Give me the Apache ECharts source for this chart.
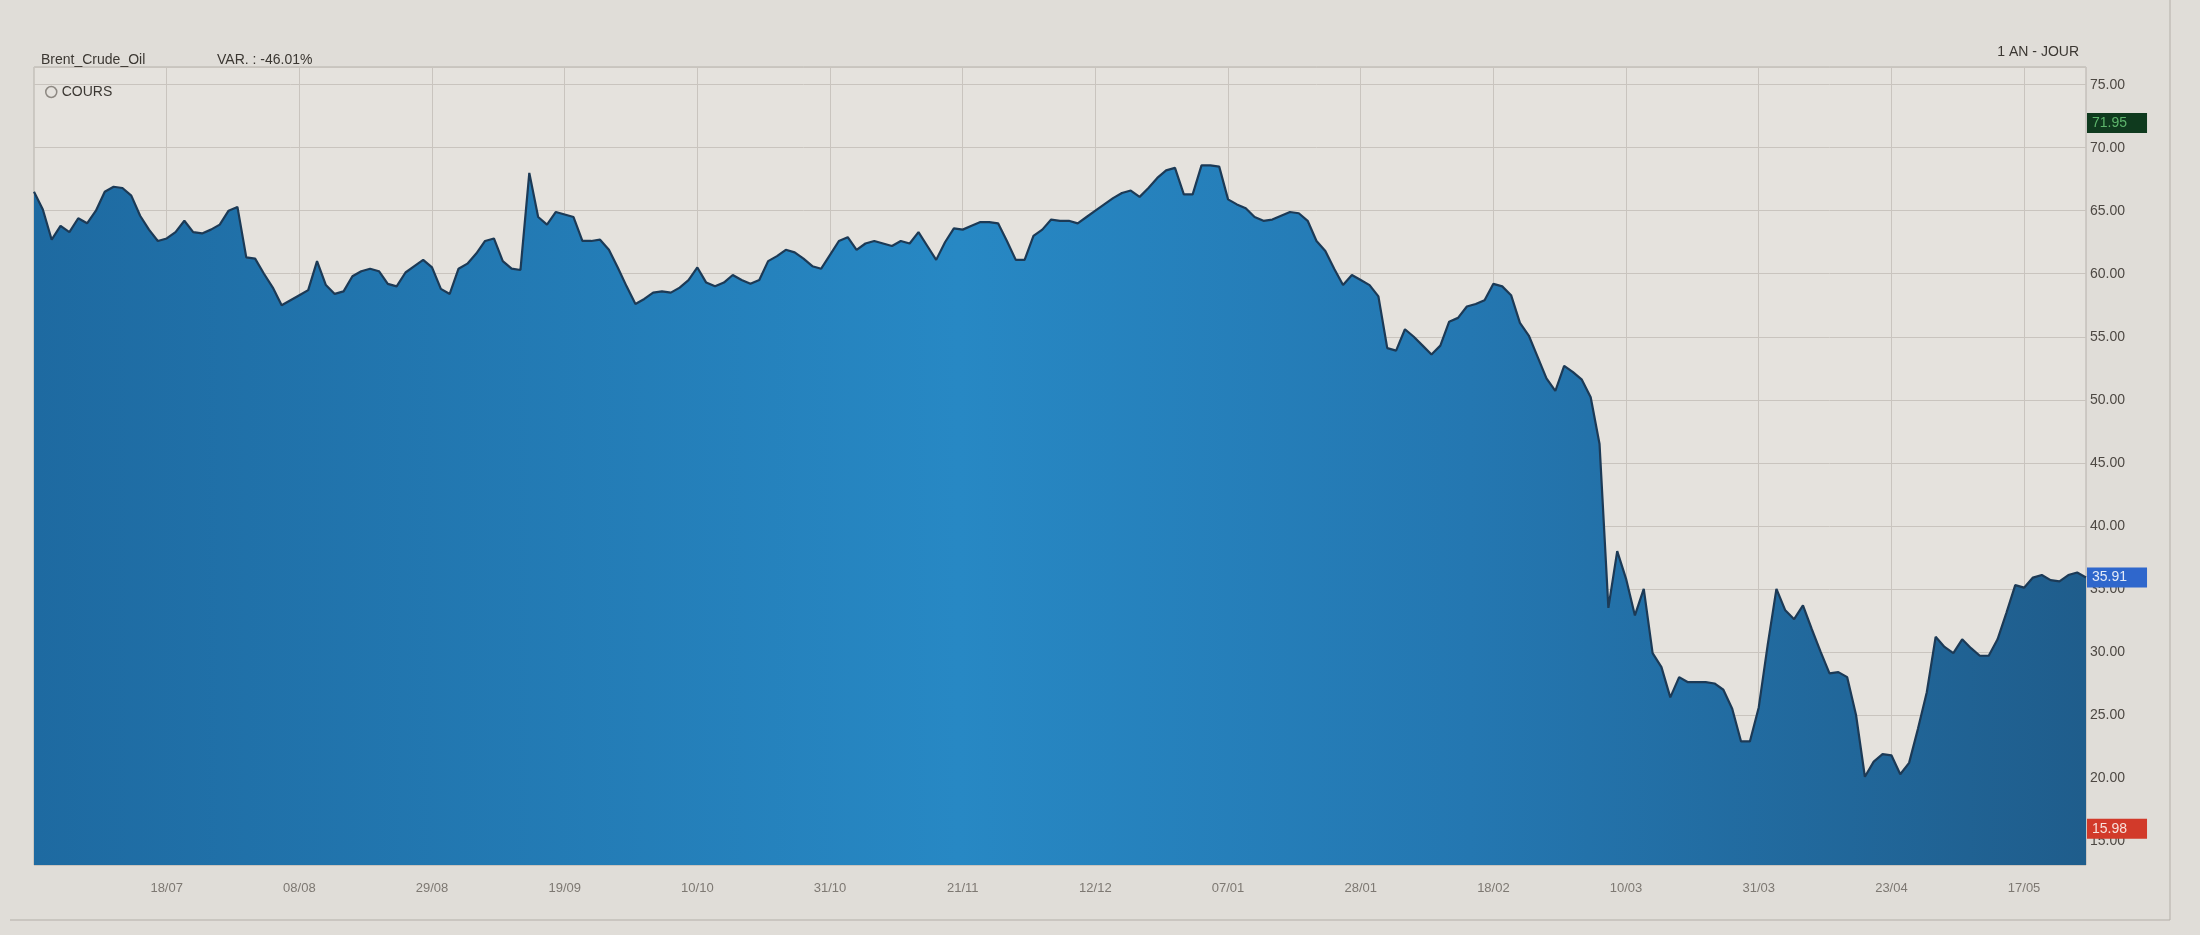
<!DOCTYPE html>
<html><head><meta charset="utf-8">
<script src="https://cdn.jsdelivr.net/npm/echarts@6/dist/echarts.min.js"></script>
<style>html,body{margin:0;padding:0;background:#e0ddd8;}#c{width:2200px;height:935px;}</style>
</head><body><div id="c"></div>
<script>
const instrument = 'Brent_Crude_Oil';
const variation = 'VAR. : -46.01%';
const period = '1 AN - JOUR';
const seriesName = 'COURS';

const categories = [
 '27/06','28/06',
 '01/07','02/07','03/07','04/07','05/07','08/07','09/07','10/07','11/07','12/07','15/07','16/07','17/07','18/07','19/07','22/07','23/07','24/07','25/07','26/07','29/07','30/07','31/07',
 '01/08','02/08','05/08','06/08','07/08','08/08','09/08','12/08','13/08','14/08','15/08','16/08','19/08','20/08','21/08','22/08','23/08','26/08','27/08','28/08','29/08','30/08',
 '02/09','03/09','04/09','05/09','06/09','09/09','10/09','11/09','12/09','13/09','16/09','17/09','18/09','19/09','20/09','23/09','24/09','25/09','26/09','27/09','30/09',
 '01/10','02/10','03/10','04/10','07/10','08/10','09/10','10/10','11/10','14/10','15/10','16/10','17/10','18/10','21/10','22/10','23/10','24/10','25/10','28/10','29/10','30/10','31/10',
 '01/11','04/11','05/11','06/11','07/11','08/11','11/11','12/11','13/11','14/11','15/11','18/11','19/11','20/11','21/11','22/11','25/11','26/11','27/11','28/11','29/11',
 '02/12','03/12','04/12','05/12','06/12','09/12','10/12','11/12','12/12','13/12','16/12','17/12','18/12','19/12','20/12','23/12','24/12','27/12','30/12','31/12',
 '02/01','03/01','06/01','07/01','08/01','09/01','10/01','13/01','14/01','15/01','16/01','17/01','20/01','21/01','22/01','23/01','24/01','27/01','28/01','29/01','30/01','31/01',
 '03/02','04/02','05/02','06/02','07/02','10/02','11/02','12/02','13/02','14/02','17/02','18/02','19/02','20/02','21/02','24/02','25/02','26/02','27/02','28/02',
 '02/03','03/03','04/03','05/03','06/03','09/03','10/03','11/03','12/03','13/03','16/03','17/03','18/03','19/03','20/03','23/03','24/03','25/03','26/03','27/03','30/03','31/03',
 '01/04','02/04','03/04','06/04','07/04','08/04','09/04','14/04','15/04','16/04','17/04','20/04','21/04','22/04','23/04','24/04','27/04','28/04','29/04','30/04',
 '04/05','05/05','06/05','07/05','11/05','12/05','13/05','14/05','15/05','17/05','18/05','19/05','20/05','21/05','22/05','25/05','26/05'
];

const prices = [
 66.5,65.1,62.7,63.8,63.3,64.4,64.0,65.0,66.5,66.9,
 66.8,66.2,64.6,63.5,62.6,62.8,63.3,64.2,63.3,63.2,
 63.5,63.9,65.0,65.3,61.3,61.2,60.0,58.9,57.5,57.9,
 58.3,58.7,61.0,59.1,58.4,58.6,59.8,60.2,60.4,60.2,
 59.2,59.0,60.1,60.6,61.1,60.5,58.8,58.4,60.4,60.8,
 61.6,62.6,62.8,61.0,60.4,60.3,68.0,64.5,63.9,64.9,
 64.7,64.5,62.6,62.6,62.7,61.9,60.5,59.0,57.6,58.0,
 58.5,58.6,58.5,58.9,59.5,60.5,59.3,59.0,59.3,59.9,
 59.5,59.2,59.5,61.0,61.4,61.9,61.7,61.2,60.6,60.4,
 61.5,62.6,62.9,61.9,62.4,62.6,62.4,62.2,62.6,62.4,
 63.3,62.2,61.1,62.5,63.6,63.5,63.8,64.1,64.1,64.0,
 62.6,61.1,61.1,63.0,63.5,64.3,64.2,64.2,64.0,64.5,
 65.0,65.5,66.0,66.4,66.6,66.1,66.8,67.6,68.2,68.4,
 66.3,66.3,68.6,68.6,68.5,65.9,65.5,65.2,64.5,64.2,
 64.3,64.6,64.9,64.8,64.2,62.6,61.8,60.4,59.1,59.9,
 59.5,59.1,58.2,54.1,53.9,55.6,55.0,54.3,53.6,54.3,
 56.2,56.5,57.4,57.6,57.9,59.2,59.0,58.3,56.1,55.1,
 53.4,51.7,50.7,52.7,52.2,51.6,50.2,46.5,33.5,38.0,
 35.8,32.9,35.0,29.9,28.8,26.4,28.0,27.6,27.6,27.6,
 27.5,27.0,25.5,22.9,22.9,25.6,30.5,35.0,33.3,32.6,
 33.7,31.8,30.0,28.3,28.4,28.0,25.0,20.1,21.3,21.9,
 21.8,20.3,21.2,23.9,26.8,31.2,30.4,29.9,31.0,30.3,
 29.7,29.7,31.0,33.1,35.3,35.1,35.9,36.1,35.7,35.6,
 36.1,36.3,35.91
];

const tickLabels = ['18/07','08/08','29/08','19/09','10/10','31/10','21/11','12/12','07/01','28/01','18/02','10/03','31/03','23/04','17/05'];

const periodHigh = 71.95;
const lastPrice = 35.91;
const periodLow = 15.98;

const chart = echarts.init(document.getElementById('c'));
const showTick = (i, v) => tickLabels.includes(v);
const fontFam = '"Liberation Sans", Arial, sans-serif';

const badge = (value, bg, fg) => ({
  yAxis: value,
  lineStyle: { color: 'rgba(0,0,0,0)', width: 0 },
  label: { show: true, position: 'end', distance: 1, fontSize: 14, padding: [3, 20, 3, 5],
           fontFamily: fontFam, backgroundColor: bg, color: fg, formatter: value.toFixed(2) }
});

chart.setOption({
  backgroundColor: '#e0ddd8',
  animation: false,
  title: [
    { text: instrument, left: 36, top: 48, textStyle: { fontSize: 14, fontWeight: 'normal', color: '#3b3732', fontFamily: fontFam } },
    { text: variation, left: 212, top: 48, textStyle: { fontSize: 14, fontWeight: 'normal', color: '#3b3732', fontFamily: fontFam } },
    { text: period, right: 116, top: 40, textStyle: { fontSize: 14, fontWeight: 'normal', color: '#3b3732', fontFamily: fontFam } }
  ],
  legend: {
    left: 40, top: 80, itemWidth: 11, itemHeight: 11, itemGap: 8,
    data: [{ name: seriesName, icon: 'circle', itemStyle: { color: 'rgba(0,0,0,0)', borderColor: '#8d8882', borderWidth: 1.5 } }],
    textStyle: { fontSize: 14, color: '#3b3732', fontFamily: fontFam }
  },
  grid: { left: 34, right: 114, top: 67, bottom: 70, show: true, backgroundColor: '#e5e2dd', borderColor: '#b5b0aa', borderWidth: 1 },
  xAxis: {
    type: 'category', data: categories, boundaryGap: false,
    axisLine: { show: false }, axisTick: { show: false },
    axisLabel: { interval: showTick, color: '#7d7872', fontSize: 13, margin: 17, fontFamily: fontFam },
    splitLine: { show: true, interval: showTick, lineStyle: { color: '#c9c4be', width: 1 } }
  },
  yAxis: {
    type: 'value', position: 'right', min: 13.1, max: 76.4, splitNumber: 12, minInterval: 5, maxInterval: 5,
    axisLine: { show: false }, axisTick: { show: false },
    axisLabel: { formatter: v => v.toFixed(2), color: '#4d4843', fontSize: 14, margin: 4, showMinLabel: false, showMaxLabel: false, fontFamily: fontFam },
    splitLine: { show: true, lineStyle: { color: '#c9c4be', width: 1 } }
  },
  series: [{
    name: seriesName, type: 'line', data: prices, symbol: 'none', smooth: false, clip: false,
    lineStyle: { color: '#1c3a56', width: 2.2 },
    itemStyle: { color: '#1c3a56' },
    areaStyle: {
      origin: 'start', opacity: 1,
      color: new echarts.graphic.LinearGradient(0, 0, 1, 0, [
        { offset: 0, color: '#1e6aa1' },
        { offset: 0.45, color: '#2788c4' },
        { offset: 0.7, color: '#2477b1' },
        { offset: 1, color: '#1f5d8c' }
      ])
    },
    markLine: {
      silent: true, symbol: ['none', 'none'], animation: false, z: 10,
      data: [
        badge(periodHigh, '#0f3a1e', '#5db56c'),
        badge(lastPrice, '#2f67cc', '#e3ebf8'),
        badge(periodLow, '#d23a2a', '#f8e0da')
      ]
    }
  }],
  graphic: [
    { type: 'line', shape: { x1: 10, y1: 920, x2: 2170, y2: 920 }, style: { stroke: '#b3aea8', lineWidth: 1 } },
    { type: 'line', shape: { x1: 2170, y1: 0, x2: 2170, y2: 920 }, style: { stroke: '#b3aea8', lineWidth: 1 } }
  ]
});
</script></body></html>
